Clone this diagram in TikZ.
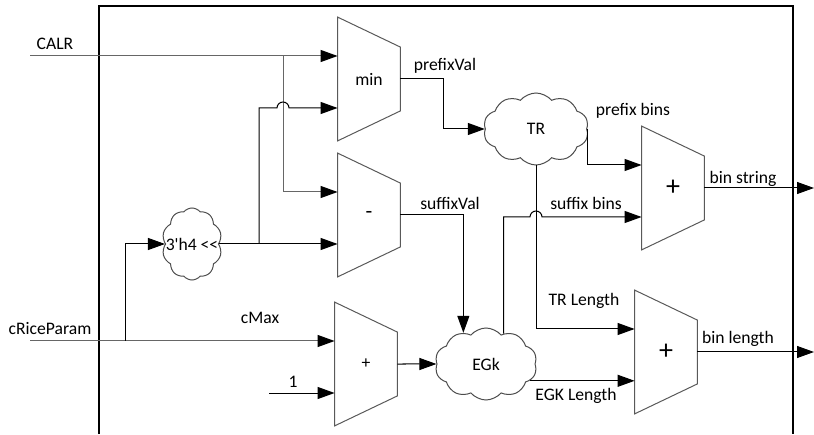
\documentclass[tikz,border=0pt]{standalone}
\usepackage{fontspec}
\setmainfont{Carlito}
\usetikzlibrary{arrows.meta,shapes.symbols,calc}
\tikzset{
  mux/.style={minimum width=31pt, minimum height=61.5pt, inner sep=0pt,
    font=\fontsize{8.8}{10}\selectfont},
  muxline/.style={draw=black!65, line width=0.5pt},
  blob/.style={draw=black!70, line width=0.5pt, shape=cloud, cloud puffs=10,
    cloud puff arc=100, cloud ignores aspect, inner sep=0pt,
    font=\fontsize{8.8}{10}\selectfont},
  sig/.style={line width=0.5pt, -{Triangle[length=8.5pt,width=6pt,color=black]}},
  lbl/.style={font=\fontsize{8.8}{10}\selectfont, inner sep=0pt},
}
\begin{document}
\begin{tikzpicture}[x=0.5pt,y=0.5pt]
\useasboundingbox (0,0) rectangle (814,434);
% enclosing block
\draw[line width=1pt] (99,0) -- (99,428) -- (793,428) -- (793,0);

% arithmetic units
\node[mux] (mmin) at (369,355) {min};
\node[mux] (msub) at (369,219) {\fontsize{11}{12}\selectfont -};
\node[mux] (madd) at (366,70) {+};
\node[mux] (mbins) at (673,246) {\fontsize{14}{15}\selectfont +};
\node[mux] (mlen) at (666,82) {\fontsize{14}{15}\selectfont +};
\foreach \m in {mmin,msub,madd,mbins,mlen} {
  \draw[muxline] (\m.north west) -- ($(\m.north east)+(0,-30)$)
    -- ($(\m.south east)+(0,30)$) -- (\m.south west) -- cycle;
  \coordinate (\m-a) at ($(\m.west)+(0,23)$);
  \coordinate (\m-b) at ($(\m.west)+(0,-29)$);
}

% binarization blocks
\node[blob, minimum width=30pt, minimum height=36pt,
  label={[lbl]center:3\textquotesingle h4 <\kern0pt<}] (shift) at (192,190) {};
\node[blob, minimum width=52.5pt, minimum height=36pt] (tr) at (536,305) {TR};
\node[blob, minimum width=51pt, minimum height=36pt] (egk) at (486,70) {EGk};

% inputs
\coordinate (calr) at (30,378);
\coordinate (crp) at (30,93);
\coordinate (one) at (269,41);
\coordinate (tapa) at (283,378);
\coordinate (tapb) at (125,93);
\coordinate (tapc) at (259,190);
\draw[sig, black!60] (calr) -- (mmin-a);
\draw[sig, black!60] (tapa) |- (msub-a);
\draw[sig, black!60] (crp) -- (madd-a);
\draw[sig] (tapb) |- (shift.west);
\draw[sig] (shift.east) -- (msub-b);
\draw[sig] (tapc) |- ($(tapa |- mmin-b)+(-6,0)$)
  arc[start angle=180, end angle=0, radius=3pt] -- (mmin-b);
\draw[sig] (one) -- (madd-b);
\draw[sig] (madd.east) -- (egk.west);

% internal signals
\draw[sig] (mmin.east) -- ++(43,0) |- (tr.west);
\draw[sig] (msub.east) -| (egk.126);
\draw[sig] (tr.east) |- (mbins-a);
\draw[sig] (egk.60) |- ($(tr.south |- mbins-b)+(-6,0)$)
  arc[start angle=180, end angle=0, radius=3pt] -- (mbins-b);
\draw[sig] (tr.south) |- (mlen-a);
\draw[sig] (egk.-21) -- (egk.-21 -| mlen.west);

% outputs
\coordinate (bsout) at (814,246);
\coordinate (blout) at (814,82);
\draw[sig] (mbins.east) -- (bsout);
\draw[sig] (mlen.east) -- (blout);

% labels
\node[lbl] (calrtxt) at (55,390) {CALR};
\node[lbl] (crptxt) at (50,105) {cRiceParam};
\node[lbl] (cmaxtxt) at (260,116) {cMax};
\node[lbl] (onetxt) at (293,52) {1};
\node[lbl] (pvtxt) at (445,368) {prefixVal};
\node[lbl] (svtxt) at (450,231) {suffixVal};
\node[lbl] (pbtxt) at (633,323) {prefix bins};
\node[lbl] (sbtxt) at (586,231) {suffix bins};
\node[lbl] (trltxt) at (584,133) {TR Length};
\node[lbl] (egltxt) at (576,38) {EGK Length};
\node[lbl] (bstxt) at (743,255) {bin string};
\node[lbl] (bltxt) at (738,95) {bin length};
\end{tikzpicture}
\end{document}
